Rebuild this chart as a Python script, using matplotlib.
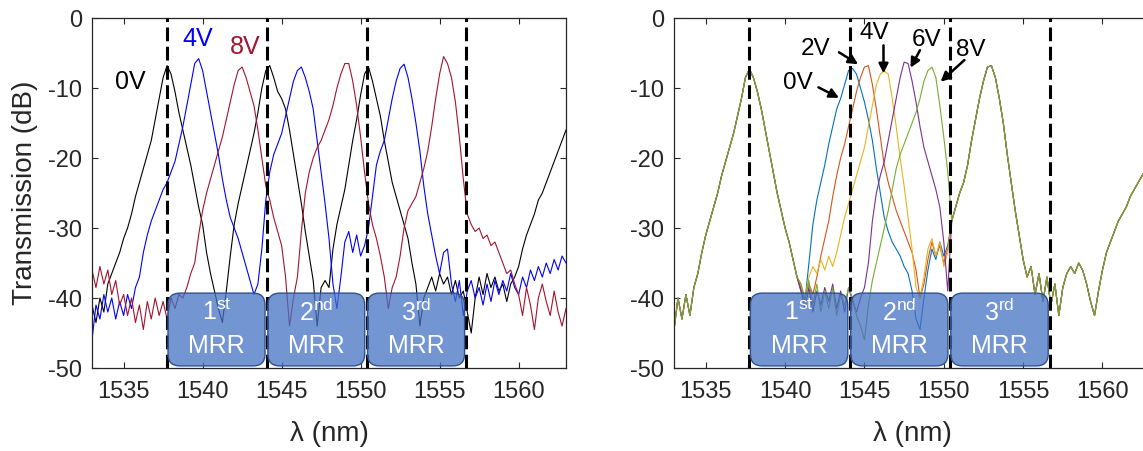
import numpy as np
import matplotlib
matplotlib.use('Agg')
import matplotlib.pyplot as plt
from matplotlib.patches import FancyBboxPatch

plt.rcParams['font.family'] = ['Liberation Sans', 'DejaVu Sans']
plt.rcParams['axes.unicode_minus'] = False
plt.rcParams['mathtext.default'] = 'regular'

# wavelength grid, 0.25 nm steps
wl = np.linspace(1533, 1563, 121)

# ---- left panel: single ring bank at 0V / 4V / 8V (dB) ----
t_0v = [-41, -43.5, -40, -42, -38, -36.5, -35, -33.5,
        -31.5, -30, -28, -25.5, -23.5, -21.5, -19.5, -17.5,
        -14.5, -11.5, -8.5, -6.8, -8, -10.5, -13.5, -16,
        -18.5, -21, -24, -27, -29.5, -33.5, -36.5, -39,
        -41.5, -43.5, -39, -34, -29.5, -26.5, -24, -21.5,
        -19, -16.5, -13.5, -10, -7.5, -6.8, -8.5, -10.5,
        -11.5, -13, -16, -19.5, -23, -26.5, -30.5, -34,
        -37.5, -44, -38.5, -37.5, -38.5, -33, -29.5, -27,
        -24.5, -21, -17.5, -14.5, -11, -8, -7.0, -9,
        -11.5, -14, -17.5, -20.5, -23.5, -25.5, -27.5, -29.5,
        -31.5, -35, -38, -44, -40, -38.5, -37, -39,
        -36.5, -38, -37, -39.5, -37.5, -40, -39, -42,
        -45, -40, -37, -39.5, -36.5, -38.5, -37, -39,
        -38, -40.5, -38, -37, -35.5, -33, -31, -29.5,
        -28, -26, -25, -23.5, -22, -20.5, -19, -17.5,
        -16]

t_4v = [-46, -41, -43, -39.5, -42, -40, -43, -40.5,
        -42.5, -39.5, -41.5, -38.5, -37, -33.5, -31, -29,
        -27.5, -26, -24.5, -23.5, -22, -20.5, -18, -15.5,
        -12.5, -9.5, -6.5, -5.8, -7.5, -10.5, -13.5, -16.5,
        -19.5, -23, -26, -28.5, -30, -31.5, -33.5, -35.5,
        -37.5, -39.5, -38, -33, -26, -22, -19.5, -18,
        -16.5, -14, -11.5, -9, -7.5, -7, -8.5, -10.5,
        -13, -17.5, -22, -26.5, -31.5, -38, -41.5, -37,
        -32, -30.5, -33.5, -31, -34, -32.5, -30, -25.5,
        -21, -19, -17.5, -14.5, -11.5, -9, -7.2, -6.6,
        -8.5, -11.5, -15, -19, -24, -28, -31, -34,
        -36.5, -33.5, -33, -38, -40.5, -37.5, -42.5, -39,
        -37.5, -40, -38.5, -41, -38, -40.5, -37.5, -39.5,
        -37.5, -39, -36.5, -38.5, -39.5, -37, -38.5, -36,
        -37.5, -35.5, -37, -35, -36.5, -34.5, -36, -34,
        -35]

t_8v = [-36, -38.5, -35.5, -38, -36, -39.5, -37.5, -41,
        -39.5, -42.5, -40, -43.5, -41, -44.5, -40.5, -43,
        -40, -42.5, -40.5, -43, -40, -41.5, -39.5, -40,
        -38.5, -36.5, -35, -31, -27.5, -25, -23, -21,
        -19, -17, -14.5, -12, -9.5, -7.5, -7, -8.5,
        -10.5, -12.5, -16, -20, -24, -26, -28.5, -30.5,
        -32.5, -37, -44, -40, -37, -30.5, -25, -22,
        -20, -18.5, -17.5, -16, -14.5, -12.5, -10, -8,
        -6.5, -6.5, -9, -12.5, -17, -22, -26.5, -29.5,
        -31.5, -34, -37, -41.5, -38.5, -37, -34, -30,
        -27.5, -26.5, -25.5, -23.5, -21.5, -19, -15.5, -11.5,
        -8, -5.5, -6.5, -8.5, -12, -17, -23, -28,
        -29.5, -30.5, -30, -31.5, -31, -32.5, -32, -33.5,
        -35, -36.5, -36, -38, -39.5, -42.5, -38.5, -41,
        -44.5, -40, -38, -40.5, -42.5, -39, -42, -44,
        -41.5]

# ---- right panel: only the 2nd ring is tuned ----
# 1533.0 - 1540.75 nm, same for all voltages
r_left = [-44.5, -40, -43, -39.5, -42.5, -38.5, -36.5, -33.5,
          -31, -29, -27, -25, -22.5, -20.5, -18.5, -16.5,
          -14, -11.5, -8.5, -7.3, -8.5, -10.5, -13, -16,
          -19, -22, -25, -27.5, -30, -32, -34.5, -37]
# 1550.5 - 1563.0 nm, same for all voltages
r_right = [-29, -27, -25, -23.5, -21, -17.5, -14.5, -11.5,
           -9, -7, -6.8, -8.5, -11.5, -15, -19.5, -23.5,
           -27.5, -31, -34.5, -37, -35.5, -39.5, -36.5, -40.5,
           -37, -41, -38, -42.5, -38.5, -36.5, -35.5, -36.5,
           -35, -36, -38, -40.5, -42.5, -39, -36, -33.5,
           -32, -30.5, -29, -28, -27, -25.5, -24.5, -23.5,
           -22.5, -21.5, -20.5]
# 1541.0 - 1550.25 nm, per voltage
mid_0v = [-39, -40.5, -35, -29.5, -26, -23.5, -21, -18,
          -15.5, -13, -11.5, -9.5, -7.5, -7.2, -8, -10,
          -12, -14.5, -17.5, -21.5, -25, -28.5, -30.5, -32,
          -33, -34, -35.5, -36.5, -39, -43, -44.5, -40,
          -36, -33, -34.5, -32, -34, -32.5]
mid_2v = [-38.5, -40, -38, -39.5, -37, -34, -31.5, -29,
          -25.5, -22.5, -20, -18, -15.5, -13, -10.5, -8.5,
          -7, -6.8, -9.5, -13, -17, -21, -23.5, -25.5,
          -27.5, -29, -30.5, -32, -33.5, -36, -40, -38,
          -34.5, -32, -34, -32.5, -35, -33]
mid_4v = [-38, -40, -37, -35.5, -36.5, -34.5, -36, -34,
          -35.5, -33.5, -31, -28.5, -26.5, -24.5, -22.5, -20.5,
          -18.5, -15.5, -12.5, -9.5, -8, -7.6, -8, -11.5,
          -15.5, -20, -24, -28.5, -33, -38.5, -40, -37,
          -33, -31.5, -34, -32, -35.5, -33.5]
mid_6v = [-39, -41.5, -38.5, -42, -39, -41, -38.5, -40.5,
          -38, -41.5, -39, -42, -38.5, -40.5, -42, -40,
          -38.5, -35, -29, -25, -22.5, -20.5, -17.5, -14.5,
          -11.5, -8.5, -6.3, -6.5, -9, -12, -15.5, -18.5,
          -20.5, -22.5, -24.5, -27, -32, -39]
mid_8v = [-38, -40.5, -37.5, -41, -38, -42, -39, -41.5,
          -38.5, -42.5, -39.5, -41, -38.5, -40, -42.5, -44,
          -46, -41, -37.5, -35, -32.5, -30, -27.5, -24.5,
          -21.5, -19.5, -18, -16.5, -15, -13.5, -11.5, -9,
          -7.5, -7, -8.5, -12.5, -17, -22]

volts_right = ['0V', '2V', '4V', '6V', '8V']
mids = [mid_0v, mid_2v, mid_4v, mid_6v, mid_8v]
colors_right = ['#0072BD', '#D95319', '#EDB120', '#7E2F8E', '#77AC30']

mrr_edges = [1537.75, 1544.07, 1550.38, 1556.7]
mrr_names = ['1$^{st}$', '2$^{nd}$', '3$^{rd}$']


def style_axes(ax):
    ax.set_xlim(1533, 1563)
    ax.set_ylim(-50, 0)
    ax.set_xticks([1535, 1540, 1545, 1550, 1555, 1560])
    ax.set_yticks([-50, -40, -30, -20, -10, 0])
    ax.tick_params(direction='in', top=True, right=True, length=4,
                   width=0.8, labelsize=17, colors='#262626')
    ax.tick_params(axis='x', pad=9)
    ax.tick_params(axis='y', pad=7)
    for s in ax.spines.values():
        s.set_color('#262626')
        s.set_linewidth(0.9)
    ax.set_xlabel('λ (nm)', fontsize=20, color='#262626')
    ax.xaxis.set_label_coords(0.5, -0.15)
    # dashed resonance markers and MRR boxes
    for x in mrr_edges:
        ax.axvline(x, color='k', lw=2.2, dashes=(4.5, 1.8), zorder=3)
    for i, name in enumerate(mrr_names):
        x0 = mrr_edges[i] + 0.06
        x1 = mrr_edges[i + 1] - 0.12
        box = FancyBboxPatch((x0, -49.7), x1 - x0, 10.4,
                             boxstyle='round,pad=0,rounding_size=0.75',
                             mutation_aspect=2.26,
                             fc=(0x44 / 255, 0x72 / 255, 0xC4 / 255, 0.75),
                             ec='#2F528F', lw=1, zorder=4)
        ax.add_patch(box)
        xc = (x0 + x1) / 2
        ax.text(xc, -42.0, name, color='white', fontsize=18,
                ha='center', va='center', zorder=5)
        ax.text(xc, -46.8, 'MRR', color='white', fontsize=18,
                ha='center', va='center', zorder=5)


fig = plt.figure(figsize=(11.43, 4.51), dpi=100)
ax1 = fig.add_axes([0.0805, 0.184, 0.4147, 0.776])
ax2 = fig.add_axes([0.5897, 0.184, 0.4165, 0.776])

ax1.plot(wl, t_0v, color='k', lw=0.8, zorder=2)
ax1.plot(wl, t_4v, color='#0000FF', lw=0.8, zorder=2)
ax1.plot(wl, t_8v, color='#A2142F', lw=0.8, zorder=2)
style_axes(ax1)
ax1.set_ylabel('Transmission (dB)', fontsize=20, color='#262626')
ax1.yaxis.set_label_coords(-0.115, 0.5)
ax1.text(1535.45, -9.1, '0V', color='k', fontsize=18, ha='center', va='center')
ax1.text(1539.7, -3.0, '4V', color='#0000FF', fontsize=18, ha='center', va='center')
ax1.text(1542.7, -4.1, '8V', color='#A2142F', fontsize=18, ha='center', va='center')

for mid, c in zip(mids, colors_right):
    ax2.plot(wl, r_left + mid + r_right, color=c, lw=0.8, zorder=2)
style_axes(ax2)

# voltage labels with arrows
lab_pos = [(1540.8, -9.3), (1541.9, -4.4), (1545.6, -2.1), (1548.9, -3.1), (1551.7, -4.6)]
arr_tail = [(1542.1, -9.9), (1543.4, -4.9), (1546.2, -3.9), (1548.5, -4.6), (1551.3, -6.0)]
arr_head = [(1543.4, -11.4), (1544.6, -6.6), (1546.2, -7.9), (1547.9, -7.1), (1549.8, -9.1)]
for v, p, t, h in zip(volts_right, lab_pos, arr_tail, arr_head):
    ax2.text(p[0], p[1], v, fontsize=17.5, ha='center', va='center', zorder=6)
    ax2.annotate('', xy=h, xytext=t, zorder=6,
                 arrowprops=dict(arrowstyle='-|>', color='k', lw=1.8,
                                 mutation_scale=14, shrinkA=0, shrinkB=0))

fig.savefig('out.png', dpi=100)
